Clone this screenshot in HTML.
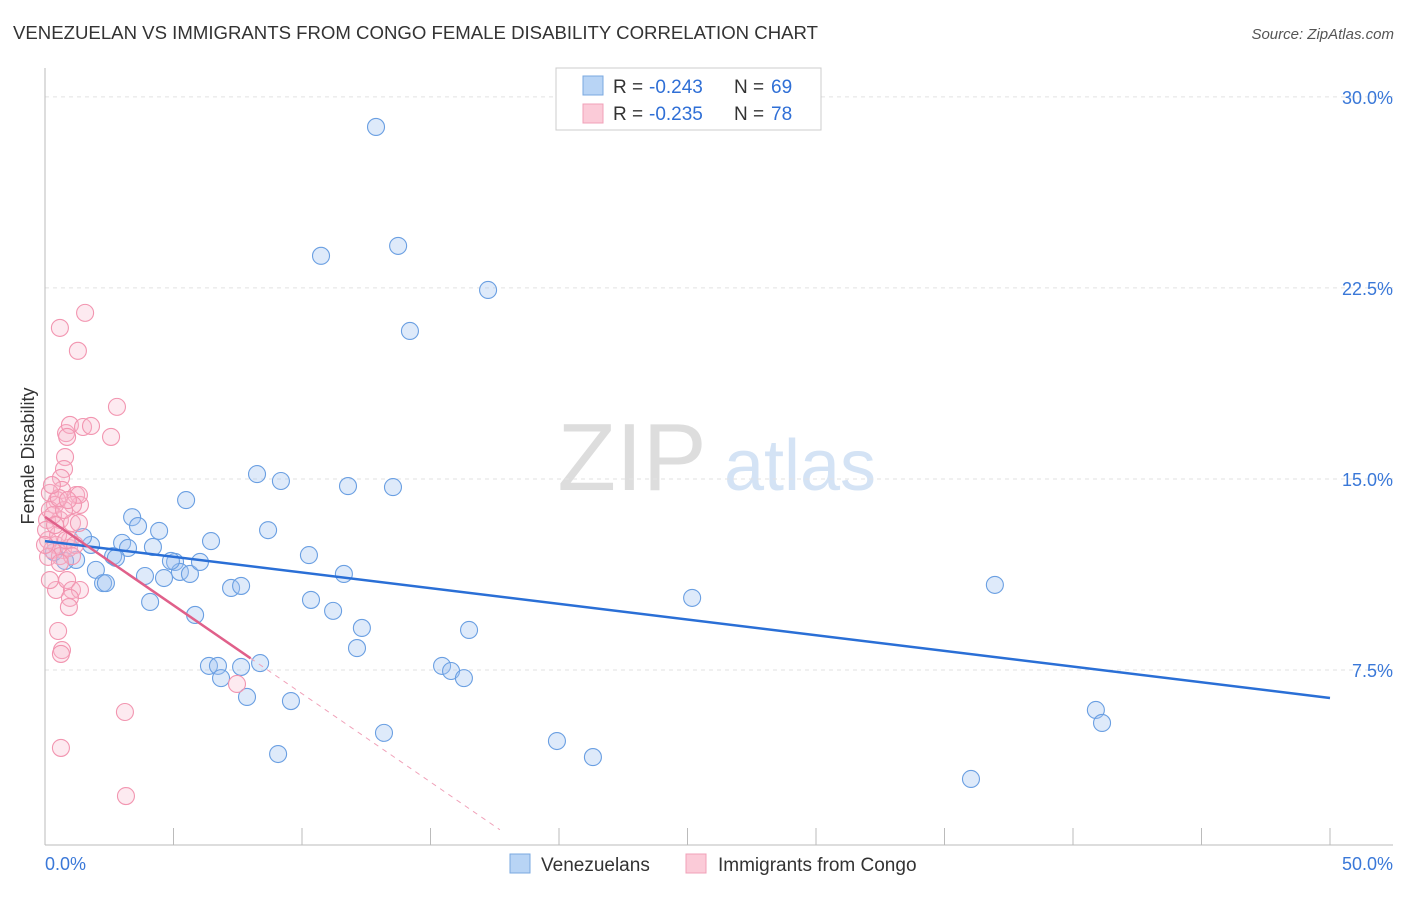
<!DOCTYPE html>
<html><head><meta charset="utf-8"><style>
body{margin:0;background:#fff;font-family:"Liberation Sans",sans-serif}
svg text{font-family:"Liberation Sans",sans-serif}
</style></head><body>
<svg id="chart" width="1406" height="892" xmlns="http://www.w3.org/2000/svg">
<text x="13" y="39" font-size="18" fill="#333" textLength="805" lengthAdjust="spacingAndGlyphs">VENEZUELAN VS IMMIGRANTS FROM CONGO FEMALE DISABILITY CORRELATION CHART</text>
<text x="1394" y="39" font-size="15" fill="#555" text-anchor="end" font-style="italic">Source: ZipAtlas.com</text>
<g>
<text x="632" y="490" font-size="96" fill="#ddd" font-family="Liberation Serif" text-anchor="middle">ZIP</text>
<text x="800" y="490" font-size="72" fill="#d4e3f5" text-anchor="middle">atlas</text>
</g>
<g id="grid"></g>
<g id="axes"></g>
<g id="marks"></g>
<text transform="translate(34,456) rotate(-90)" font-size="18" fill="#333" text-anchor="middle">Female Disability</text>
<g>
<rect x="556" y="68" width="265" height="62" fill="#fff" stroke="#ccc"/>
<rect x="583" y="76" width="20" height="19" fill="#b8d4f5" stroke="#7aa8e0"/>
<rect x="583" y="104" width="20" height="19" fill="#fbcbd8" stroke="#f0a0b8"/>
<text x="613" y="93" font-size="19" fill="#333">R =</text>
<text x="649" y="93" font-size="19" fill="#2f6fd6">-0.243</text>
<text x="734" y="93" font-size="19" fill="#333">N =</text>
<text x="771" y="93" font-size="19" fill="#2f6fd6">69</text>
<text x="613" y="120" font-size="19" fill="#333">R =</text>
<text x="649" y="120" font-size="19" fill="#2f6fd6">-0.235</text>
<text x="734" y="120" font-size="19" fill="#333">N =</text>
<text x="771" y="120" font-size="19" fill="#2f6fd6">78</text>
</g>
<g>
<rect x="510" y="854" width="20" height="19" fill="#b8d4f5" stroke="#7aa8e0"/>
<text x="541" y="871" font-size="19" fill="#333">Venezuelans</text>
<rect x="686" y="854" width="20" height="19" fill="#fbcbd8" stroke="#f0a0b8"/>
<text x="718" y="871" font-size="19" fill="#333">Immigrants from Congo</text>
</g>
</svg>
<script>
const yTicks=[30,22.5,15,7.5];
const yTickLabels=["30.0%","22.5%","15.0%","7.5%"];
const xTickLabels=["0.0%","50.0%"];
const blueX=[12.88,10.74,13.74,17.24,14.20,8.25,9.18,11.79,13.54,5.49,8.68,3.39,3.62,4.44,6.46,3.00,3.23,4.20,1.79,1.48,2.65,2.76,1.21,0.78,0.35,1.98,5.06,5.25,5.64,6.03,4.90,3.89,4.63,10.27,11.63,2.26,2.37,7.24,7.63,4.09,5.84,10.35,11.21,12.33,12.14,16.50,25.18,36.96,6.38,6.73,7.63,8.37,6.85,7.86,9.57,15.45,15.80,16.30,13.19,9.07,19.92,21.32,40.89,41.13,36.03];
const blueY=[28.82,23.76,24.15,22.42,20.81,15.19,14.92,14.72,14.68,14.17,12.99,13.50,13.15,12.96,12.56,12.49,12.29,12.33,12.41,12.72,11.97,11.90,11.82,11.78,12.13,11.43,11.74,11.35,11.27,11.74,11.78,11.19,11.11,12.01,11.27,10.91,10.91,10.72,10.80,10.17,9.66,10.25,9.82,9.15,8.36,9.07,10.33,10.84,7.66,7.66,7.62,7.77,7.18,6.44,6.28,7.66,7.46,7.18,5.03,4.20,4.71,4.08,5.93,5.42,3.22];
const pinkX=[1.56,0.58,1.28,2.80,2.57,0.82,0.97,0.86,1.48,1.79,0.78,0.74,0.62,0.66,0.47,0.19,0.39,1.21,1.36,1.32,1.09,0.08,0.58,0.19,1.05,1.32,0.12,0.43,0.70,0.27,0.58,0.93,0.12,0.97,0.43,0.86,1.05,1.36,0.97,0.93,0.51,0.66,0.62,3.11,0.62,3.15,7.47,0.31,0.04,0.51,0.0,0.82,1.17,0.19,0.39,0.74,0.54,0.27,0.89,1.05,0.58];
const pinkY=[21.52,20.93,20.03,17.83,16.65,16.80,17.12,16.65,17.04,17.08,15.86,15.39,15.04,14.57,14.17,14.45,13.98,14.37,13.98,14.37,13.98,13.39,13.39,13.78,13.27,13.27,12.60,12.41,12.21,12.21,11.97,12.29,11.94,12.60,10.64,11.03,10.64,10.64,10.33,9.97,9.03,8.28,8.13,5.85,4.44,2.55,6.95,13.58,13.00,12.80,12.41,12.60,12.41,11.03,13.19,13.78,14.25,14.76,14.17,11.97,11.70];
const blueTrend=[12.56,6.40];
const pinkTrend=[13.51,-0.694];
const X=v=>45+v*25.7, Y=v=>861-v*25.47;
const NS="http://www.w3.org/2000/svg";
function mk(parent,tag,attrs){const e=document.createElementNS(NS,tag);for(const k in attrs)e.setAttribute(k,attrs[k]);document.getElementById(parent).appendChild(e);return e;}
yTicks.forEach((t,i)=>{
 const l=mk('grid','line',{x1:45,x2:1393,y1:Y(t),y2:Y(t),stroke:'#e2e2e2','stroke-dasharray':'4,4'});
 
 
 const tx=mk('grid','text',{x:1393,y:Y(t)+7,'font-size':18,fill:'#3a78d8','text-anchor':'end'});
 tx.textContent=yTickLabels[i];
 
 
});
let a=mk('axes','line',{x1:45,x2:45,y1:68,y2:845,stroke:'#bbb'});


a=mk('axes','line',{x1:45,x2:1393,y1:845,y2:845,stroke:'#bbb'});


for(let i=0;i<=10;i++){
 const t=mk('axes','line',{x1:X(i*5),x2:X(i*5),y1:828,y2:845,stroke:'#bbb'});
 
 
}
[[0,'start',45],[50,'end',1393]].forEach((d,i)=>{
 const tx=mk('axes','text',{x:d[2],y:870,'font-size':18,fill:'#3a78d8','text-anchor':d[1]});
 tx.textContent=xTickLabels[i];
 
 
});
blueX.forEach((v,i)=>{
 const c=mk('marks','circle',{cx:X(v),cy:Y(blueY[i]),r:8.5,fill:'rgba(160,196,240,0.35)',stroke:'#6a9fe2','stroke-width':1.1});
 
 
});
pinkX.forEach((v,i)=>{
 const c=mk('marks','circle',{cx:X(v),cy:Y(pinkY[i]),r:8.5,fill:'rgba(248,185,205,0.3)',stroke:'#f295b0','stroke-width':1.1});
 
 
});
let tl=mk('marks','line',{x1:X(0),y1:Y(blueTrend[0]),x2:X(50),y2:Y(blueTrend[1]),stroke:'#2a6fd6','stroke-width':2.5});


tl=mk('marks','line',{x1:X(0),y1:Y(pinkTrend[0]),x2:X(8),y2:Y(pinkTrend[0]+pinkTrend[1]*8),stroke:'#e0608a','stroke-width':2.5});


tl=mk('marks','line',{x1:X(8),y1:Y(pinkTrend[0]+pinkTrend[1]*8),x2:X(17.7),y2:Y(pinkTrend[0]+pinkTrend[1]*17.7),stroke:'#f0a0b8','stroke-width':1,'stroke-dasharray':'5,5'});


</script>
</body></html>
